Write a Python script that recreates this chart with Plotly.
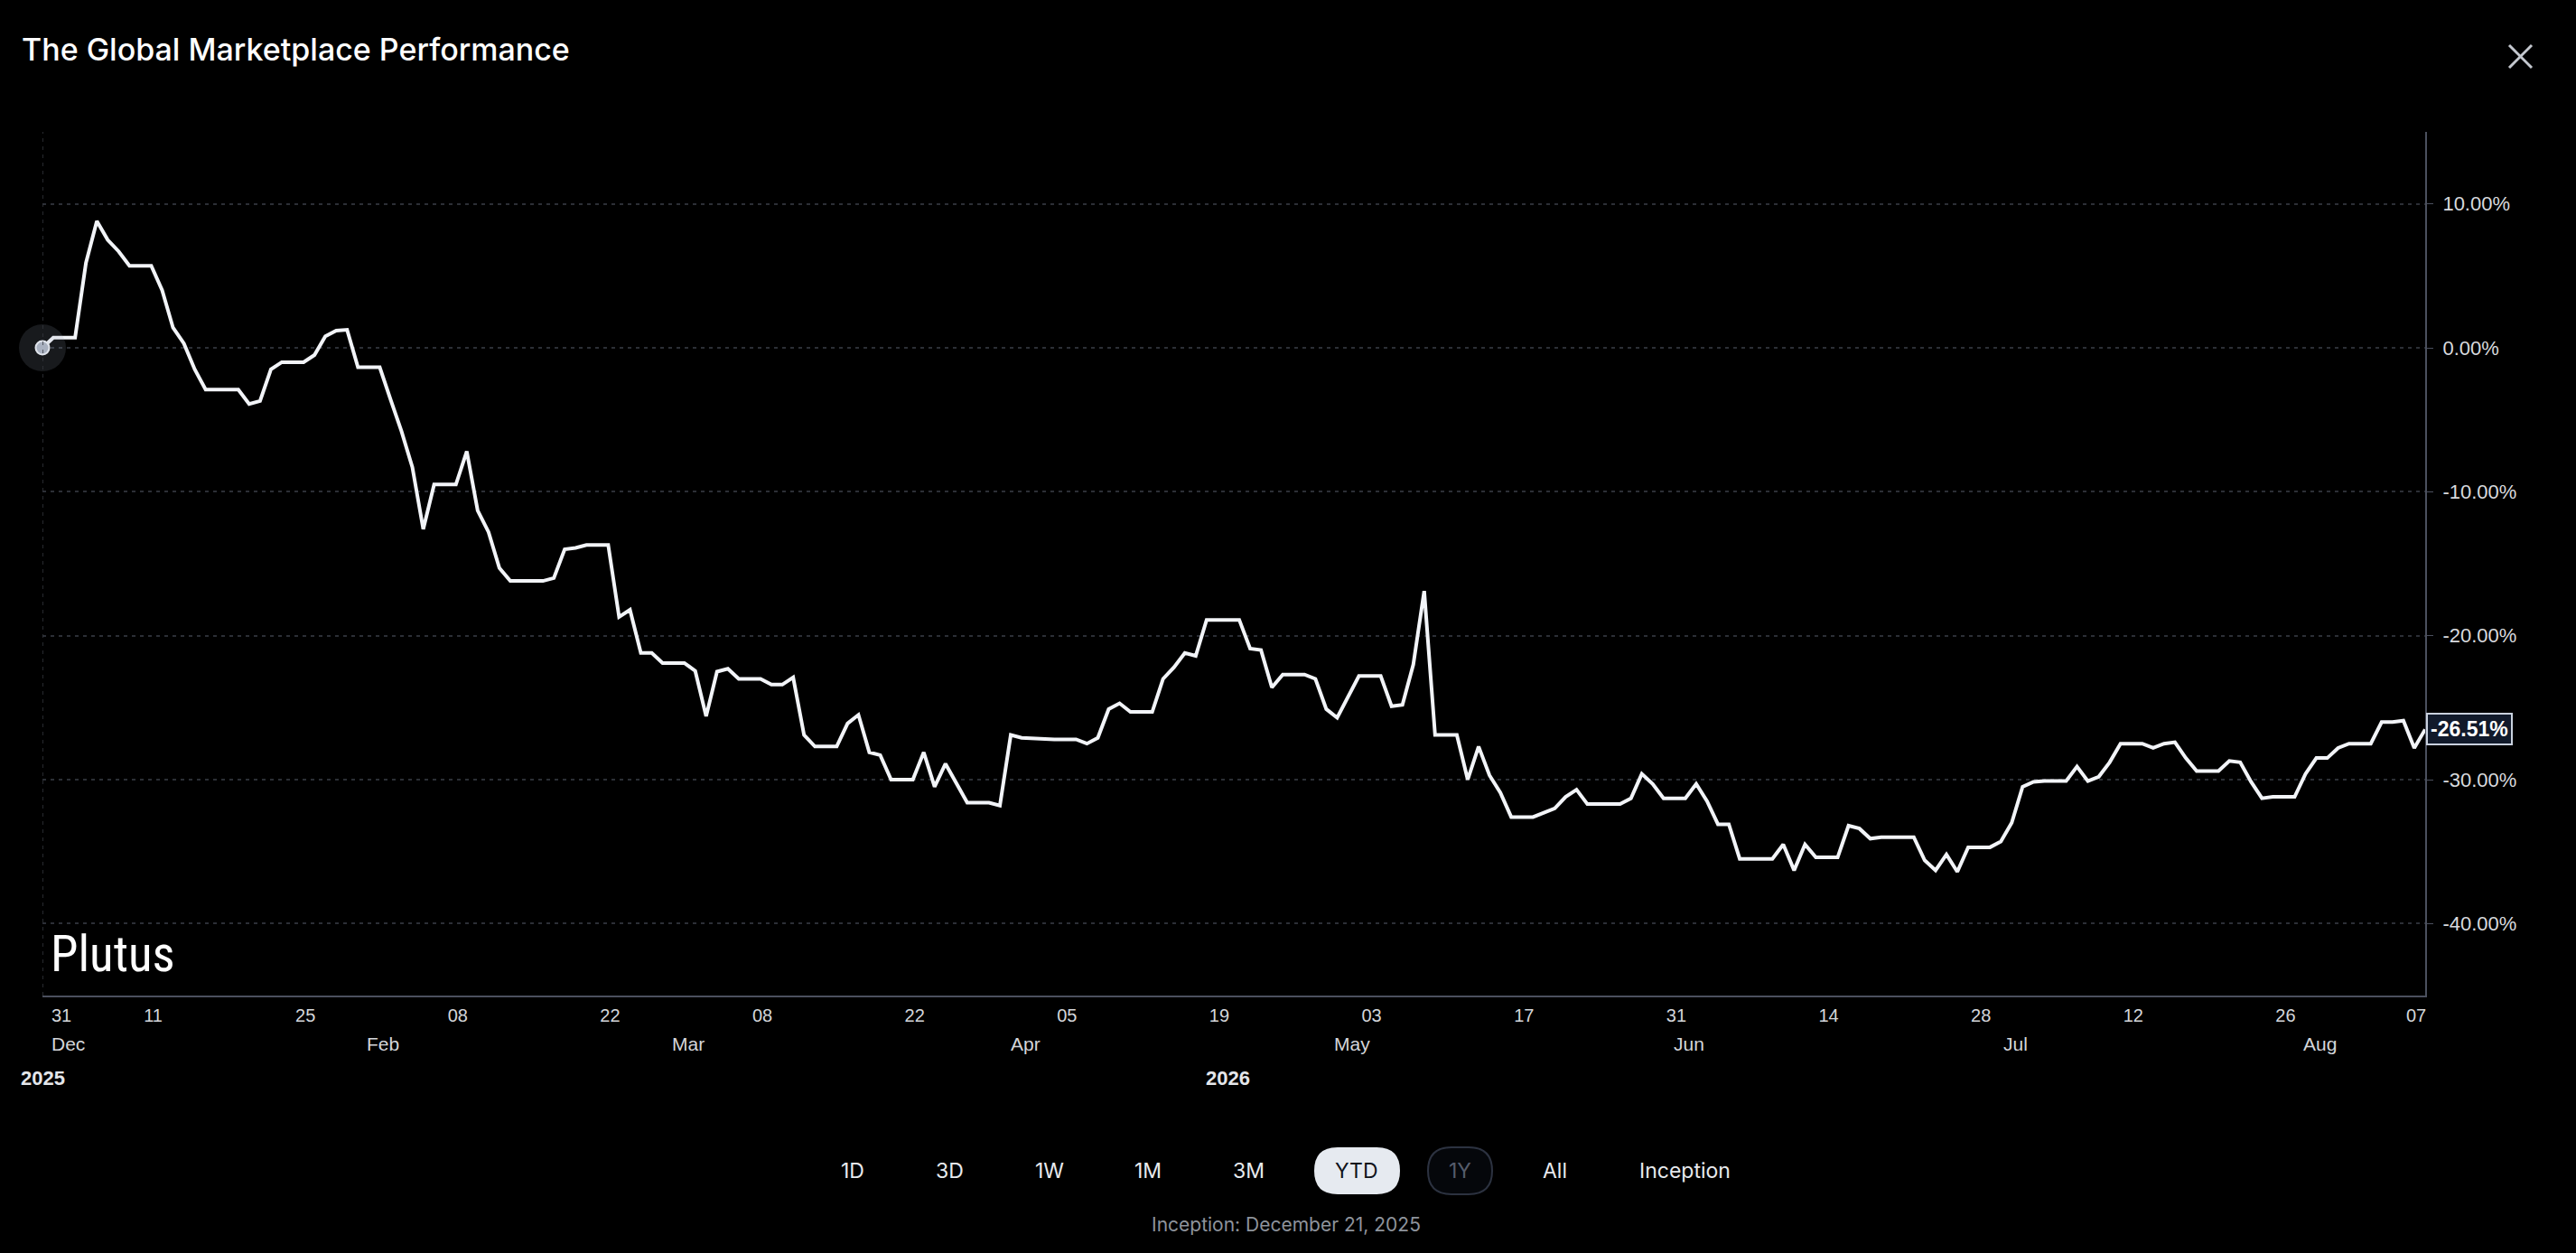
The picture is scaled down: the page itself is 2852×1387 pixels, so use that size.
import plotly.graph_objects as go
import pandas as pd

# daily performance (%), starting Dec 31 2025
start_date = "2025-12-31"
perf = [
    0.0, 0.7, 0.7, 0.7, 5.9, 8.8, 7.5, 6.7, 5.7, 5.7,
    5.7, 4.0, 1.4, 0.3, -1.5, -2.9, -2.9, -2.9, -2.9, -3.9,
    -3.7, -1.5, -1.0, -1.0, -1.0, -0.5, 0.8, 1.2, 1.25, -1.35,
    -1.35, -1.35, -3.6, -5.8, -8.3, -12.6, -9.5, -9.5, -9.5, -7.2,
    -11.3, -12.8, -15.3, -16.2, -16.2, -16.2, -16.2, -16.0, -14.0, -13.9,
    -13.7, -13.7, -13.7, -18.7, -18.2, -21.2, -21.2, -21.9, -21.9, -21.9,
    -22.45, -25.6, -22.5, -22.3, -23.0, -23.0, -23.0, -23.4, -23.4, -22.9,
    -26.9, -27.7, -27.7, -27.7, -26.1, -25.5, -28.1, -28.3, -30.0, -30.0,
    -30.0, -28.1, -30.5, -28.9, -30.2, -31.6, -31.6, -31.6, -31.8, -26.9,
    -27.1, -27.15, -27.2, -27.2, -27.2, -27.2, -27.5, -27.1, -25.1, -24.7,
    -25.3, -25.3, -25.3, -23.0, -22.2, -21.2, -21.4, -18.9, -18.9, -18.9,
    -18.9, -20.9, -21.0, -23.6, -22.7, -22.7, -22.7, -23.0, -25.1, -25.7,
    -24.3, -22.8, -22.8, -22.8, -24.9, -24.8, -22.0, -16.9, -26.9, -26.9,
    -26.9, -30.0, -27.7, -29.7, -30.9, -32.6, -32.6, -32.6, -32.3, -32.0,
    -31.2, -30.7, -31.7, -31.7, -31.7, -31.7, -31.3, -29.6, -30.3, -31.3,
    -31.3, -31.3, -30.3, -31.5, -33.1, -33.1, -35.5, -35.5, -35.5, -35.5,
    -34.5, -36.3, -34.5, -35.4, -35.4, -35.4, -33.2, -33.4, -34.1, -34.0,
    -34.0, -34.0, -34.0, -35.6, -36.3, -35.2, -36.4, -34.7, -34.7, -34.7,
    -34.3, -33.0, -30.5, -30.15, -30.1, -30.1, -30.1, -29.1, -30.1, -29.8,
    -28.8, -27.5, -27.5, -27.5, -27.8, -27.5, -27.4, -28.5, -29.4, -29.4,
    -29.4, -28.7, -28.8, -30.15, -31.3, -31.2, -31.2, -31.2, -29.6, -28.5,
    -28.5, -27.8, -27.5, -27.5, -27.5, -26.0, -26.0, -25.9, -27.8, -26.51,
]
dates = pd.date_range(start_date, periods=len(perf), freq="D")

# x axis ticks (first one is drawn separately, like the original, inside the plot)
tick_dates = ["2026-01-11", "2026-01-25", "2026-02-08", "2026-02-22",
              "2026-03-08", "2026-03-22", "2026-04-05", "2026-04-19", "2026-05-03",
              "2026-05-17", "2026-05-31", "2026-06-14", "2026-06-28", "2026-07-12",
              "2026-07-26", "2026-08-07"]
tick_text = ["11", "25", "08", "22", "08", "22", "05", "19", "03",
             "17", "31", "14", "28", "12", "26", "07"]
first_tick = "31"
month_labels = ["Feb", "Mar", "Apr", "May", "Jun", "Jul", "Aug"]
month_dates = ["2026-02-01", "2026-03-01", "2026-04-01", "2026-05-01",
               "2026-06-01", "2026-07-01", "2026-07-29"]
year_labels = ["2025", "2026"]
year_dates = ["2025-12-31", "2026-04-19"]

y_ticks = [-40, -30, -20, -10, 0, 10]
y_text = [f"{v:.2f}%" for v in y_ticks]

buttons = ["1D", "3D", "1W", "1M", "3M", "YTD", "1Y", "All", "Inception"]
button_px = [944, 1051, 1162, 1271, 1382, 1502, 1616, 1721, 1865]

W, H = 2852, 1387
L, R, T, B = 47, 2685, 146, 1102  # plot area in pixels


def px_x(px):
    return (px - L) / (R - L)


def px_y(py):
    return (B - py) / (B - T)


def pill(x0, x1, y0, y1):
    r = (y1 - y0) / 2
    pts = [
        ("M", x0 + r, y0), ("L", x1 - r, y0), ("Q", x1, y0, x1, y0 + r),
        ("Q", x1, y1, x1 - r, y1), ("L", x0 + r, y1), ("Q", x0, y1, x0, y1 - r),
        ("Q", x0, y0, x0 + r, y0),
    ]
    out = ""
    for p in pts:
        cmd, coords = p[0], p[1:]
        pairs = []
        for i in range(0, len(coords), 2):
            pairs.append(f"{px_x(coords[i]):.5f},{px_y(coords[i + 1]):.5f}")
        out += cmd + " ".join(pairs) + " "
    return out + "Z"


axis_font = "Liberation Sans, Arial, sans-serif"
ui_font = "Inter, Roboto, sans-serif"

fig = go.Figure()

fig.add_trace(go.Scatter(
    x=dates, y=perf, mode="lines",
    line=dict(color="#f2f4f8", width=4),
    hoverinfo="skip"))

# start point halo + dot
fig.add_trace(go.Scatter(
    x=dates[:1], y=perf[:1], mode="markers", cliponaxis=False,
    marker=dict(size=52, color="rgba(150,160,180,0.16)"), hoverinfo="skip"))
fig.add_trace(go.Scatter(
    x=dates[:1], y=perf[:1], mode="markers", cliponaxis=False,
    marker=dict(size=15, color="#a9b1c0", line=dict(color="#dfe3ea", width=2)),
    hoverinfo="skip"))

# vertical dashed line at the start
fig.add_shape(type="line", xref="x", yref="paper", x0=dates[0], x1=dates[0], y0=0, y1=1,
              line=dict(color="#34373e", width=1.5, dash="4px,5px"))

# last value label on the axis
fig.add_annotation(
    xref="paper", yref="y", x=1, y=perf[-1], xanchor="left", yanchor="middle", xshift=1,
    text=f"<b>{perf[-1]:.2f}%</b>", showarrow=False,
    font=dict(family=axis_font, size=23, color="#ffffff"),
    bgcolor="#111a2b", bordercolor="#c9d1de", borderwidth=2, borderpad=3)

# first day tick, kept inside the plot's left edge
fig.add_annotation(xref="x", yref="paper", x=dates[0], y=px_y(1124), xanchor="left",
                   yanchor="middle", xshift=8, text=first_tick, showarrow=False,
                   font=dict(family=axis_font, size=20, color="#d4d6da"))

# month and year labels below the day ticks
fig.add_annotation(xref="x", yref="paper", x=dates[0], y=px_y(1155), xanchor="left",
                   yanchor="middle", xshift=8, text="Dec", showarrow=False,
                   font=dict(family=axis_font, size=21, color="#d4d6da"))
for lab, d in zip(month_labels, month_dates):
    fig.add_annotation(xref="x", yref="paper", x=d, y=px_y(1155), xshift=-8,
                       xanchor="center", yanchor="middle",
                       text=lab, showarrow=False,
                       font=dict(family=axis_font, size=21, color="#d4d6da"))
for lab, d in zip(year_labels, year_dates):
    fig.add_annotation(xref="x", yref="paper", x=d, y=px_y(1193),
                       xanchor="center", yanchor="middle",
                       text=f"<b>{lab}</b>", showarrow=False,
                       font=dict(family=axis_font, size=22, color="#e4e6ea"))

# watermark
fig.add_annotation(xref="paper", yref="paper", x=px_x(54), y=px_y(1056), xanchor="left",
                   yanchor="middle", text="Plutus", showarrow=False,
                   font=dict(family="Liberation Sans Narrow, Roboto Condensed, Liberation Sans",
                             size=55, color="#ffffff"))

# title
fig.add_annotation(xref="paper", yref="paper", x=px_x(22), y=px_y(55), xanchor="left",
                   yanchor="middle", text="The Global Marketplace Performance",
                   showarrow=False,
                   font=dict(family=ui_font, size=34, color="#ffffff", weight=500))

# close icon
for x0, y0, x1, y1 in [(2778, 50, 2803, 75), (2778, 75, 2803, 50)]:
    fig.add_shape(type="line", xref="paper", yref="paper",
                  x0=px_x(x0), y0=px_y(y0), x1=px_x(x1), y1=px_y(y1),
                  line=dict(color="#c4c8cf", width=3))

# range buttons
fig.add_shape(type="path", xref="paper", yref="paper", path=pill(1455, 1550, 1270, 1322),
              fillcolor="#e6eaf0", line=dict(width=0))
fig.add_shape(type="path", xref="paper", yref="paper", path=pill(1581, 1652, 1270, 1322),
              fillcolor="#05070b", line=dict(color="#2c3240", width=2))
for lab, bx in zip(buttons, button_px):
    col = "#e8eaee"
    if lab == "YTD":
        col = "#10131a"
    elif lab == "1Y":
        col = "#555c6b"
    fig.add_annotation(xref="paper", yref="paper", x=px_x(bx), y=px_y(1296),
                       xanchor="center", yanchor="middle",
                       text=lab, showarrow=False,
                       font=dict(family=ui_font, size=23, color=col))

fig.add_annotation(xref="paper", yref="paper", x=px_x(1424), y=px_y(1355),
                   xanchor="center", yanchor="middle",
                   text="Inception: December 21, 2025", showarrow=False,
                   font=dict(family=ui_font, size=21, color="#8e939c"))

fig.update_layout(
    width=W, height=H,
    margin=dict(l=L, r=W - R, t=T, b=H - B, pad=0),
    paper_bgcolor="#000000", plot_bgcolor="#000000",
    showlegend=False,
    xaxis=dict(
        type="date", range=[dates[0], dates[-1]],
        tickvals=tick_dates, ticktext=tick_text, ticks="",
        tickfont=dict(family=axis_font, size=20, color="#d4d6da"),
        ticklabelshift=-10, ticklabelstandoff=3,
        showgrid=False, zeroline=False, automargin=False,
        showline=True, linecolor="#4b505e", linewidth=2,
    ),
    yaxis=dict(
        side="right", range=[-45, 15], tickvals=y_ticks, ticktext=y_text,
        tickfont=dict(family=axis_font, size=22, color="#d8dade"),
        ticks="outside", ticklen=7, tickcolor="#4b505e", ticklabelstandoff=6,
        showgrid=True, gridcolor="#2c2f36", gridwidth=1.5, griddash="4px,5px",
        zeroline=False, automargin=False,
        showline=True, linecolor="#4b505e", linewidth=2,
    ),
)

fig.write_html("out.html", config={"displayModeBar": False},
               post_script="document.body.style.margin='0';document.body.style.background='#000';")
